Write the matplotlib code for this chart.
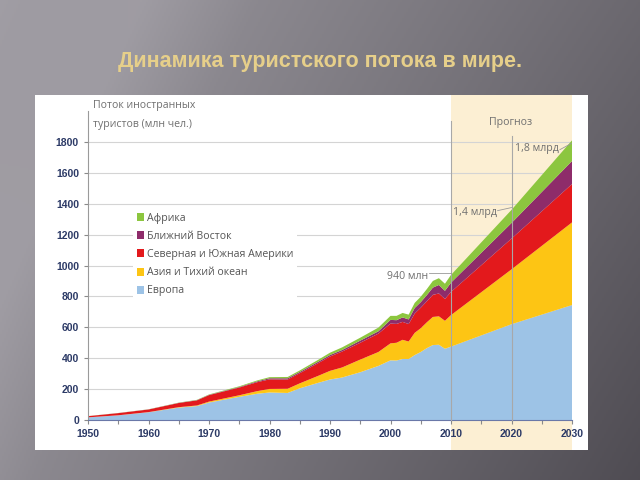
import numpy as np
import matplotlib
matplotlib.use("Agg")
import matplotlib.pyplot as plt
from matplotlib.patches import Rectangle, Patch

plt.rcParams['font.family'] = ['Liberation Sans', 'DejaVu Sans']

# --- data (млн чел.) ---
years = [1950, 1955, 1960, 1965, 1968, 1970, 1975, 1978, 1980, 1983, 1985, 1988,
         1990, 1992, 1995, 1998, 2000, 2001, 2002, 2003, 2004, 2005, 2006, 2007,
         2008, 2009, 2010, 2020, 2030]
europe = [17, 30, 50, 80, 90, 113, 150, 170, 178, 175, 205, 240,
          262, 275, 309, 350, 386, 385, 395, 395, 420, 440, 465, 485,
          487, 461, 475, 620, 744]
asia = [0.2, 0.5, 1, 3, 4, 6, 10, 17, 23, 27, 32, 45,
        56, 65, 82, 90, 110, 115, 124, 113, 144, 154, 167, 182,
        184, 181, 204, 355, 535]
americas = [7.5, 14, 17, 27, 33, 42, 50, 58, 62, 60, 66, 82,
            93, 103, 109, 119, 128, 122, 116, 113, 125, 133, 136, 143,
            148, 141, 150, 199, 248]
middle_east = [0.2, 0.4, 0.6, 1.2, 1.5, 1.9, 3.5, 5.5, 7.1, 8, 8, 9,
               9.6, 10, 13.7, 15, 24, 24, 29, 30, 36, 36, 40, 47,
               55, 53, 60, 101, 149]
africa = [0.5, 0.6, 0.75, 1.4, 2, 2.4, 4.7, 6, 7.2, 8.5, 9.7, 12.5,
          15, 17, 19, 24, 26, 28, 29, 31, 33, 35, 39, 43,
          44, 46, 50, 85, 134]

labels = ['Европа', 'Азия и Тихий океан', 'Северная и Южная Америки',
          'Ближний Восток', 'Африка']
colors = ['#9dc3e6', '#fdc514', '#e3191c', '#8e2c6a', '#8cc63f']

fig = plt.figure(figsize=(6.4, 4.8), dpi=100)

# background gradient
bg = fig.add_axes([0, 0, 1, 1], zorder=-10)
xx, yy = np.meshgrid(np.linspace(0, 1, 320), np.linspace(0, 1, 240))
val = 0.63 - 0.21 * xx - 0.07 * yy - 0.04 * xx * yy
streak = np.clip(1 - np.abs((xx + 0.35 * yy) - 0.22) / 0.18, 0, 1)
val = val + 0.04 * streak
img = np.dstack([val, val - 0.012, val + 0.015])
bg.imshow(np.clip(img, 0, 1), aspect='auto', extent=[0, 1, 0, 1], origin='upper')
bg.axis('off')

# white panel
fig.patches.append(Rectangle((35 / 640, 1 - 450 / 480), 553 / 640, 355 / 480,
                             transform=fig.transFigure, facecolor='white',
                             edgecolor='none', zorder=-5))

fig.text(0.5, 1 - 62 / 480, 'Динамика туристского потока в мире.',
         ha='center', va='center', fontsize=15.5, fontweight='bold', color='#e6cf8a')

ax = fig.add_axes([88 / 640, 0.125, 484 / 640, 309 / 480])
ax.set_facecolor('none')
ax.set_xlim(1950, 2030)
ax.set_ylim(0, 2000)

# forecast band
ax.axvspan(2010, 2030, ymin=-30 / 309, ymax=325 / 309, color='#fcefd3',
           clip_on=False, zorder=0, lw=0)

ax.set_axisbelow(True)
ax.yaxis.grid(True, color='#d4d4d4', lw=0.8)
ax.set_yticks(range(0, 1801, 200))
ax.set_xticks(range(1950, 2031, 10))
ax.set_xticks(range(1955, 2031, 10), minor=True)

ax.stackplot(years, europe, asia, americas, middle_east, africa,
             colors=colors, lw=0, zorder=2)

for x, ytop in [(2010, 1935), (2020, 1840)]:
    ax.plot([x, x], [0, ytop], color='#a8a8a8', lw=0.8, zorder=3, clip_on=False)

for s in ['top', 'right']:
    ax.spines[s].set_visible(False)
ax.spines['left'].set_color('#9a9a9a')
ax.spines['left'].set_bounds(0, 2000)
ax.spines['bottom'].set_color('#6a78a8')
ax.tick_params(axis='both', which='both', colors='#8a8a8a', length=3, width=0.8)
for lab in ax.get_xticklabels() + ax.get_yticklabels():
    lab.set_fontweight('bold')
    lab.set_color('#2c3a66')
    lab.set_fontsize(7.5)
    lab.set_family(['Liberation Sans Narrow', 'Liberation Sans'])

txt = dict(color='#707070', fontsize=7.6, family=['Open Sans', 'DejaVu Sans'])
ax.text(1950.8, 2070, 'Поток иностранных\nтуристов (млн чел.)', va='top', ha='left',
        linespacing=2.0, clip_on=False, **txt)
ax.text(2019.8, 1925, 'Прогноз', ha='center', va='center', **txt)
ax.text(2027.9, 1755, '1,8 млрд', ha='right', va='center', **txt)
ax.plot([2028, 2029.9], [1750, 1790], color='#999999', lw=0.6, zorder=3)
ax.text(2017.6, 1345, '1,4 млрд', ha='right', va='center', **txt)
ax.plot([2017.7, 2020], [1355, 1375], color='#999999', lw=0.6, zorder=3)
ax.text(2006.2, 930, '940 млн', ha='right', va='center', **txt)
ax.plot([2006.4, 2010], [950, 950], color='#999999', lw=0.6, zorder=3)

handles = [Patch(facecolor=c, edgecolor='none') for c in colors[::-1]]
leg = ax.legend(handles, labels[::-1], loc='upper left',
                bbox_to_anchor=(45 / 484, 211 / 309), frameon=True,
                prop={'family': ['Open Sans', 'DejaVu Sans'], 'size': 7.6},
                handlelength=0.7, handleheight=0.8, handletextpad=0.3,
                labelspacing=0.68, borderpad=0.35, borderaxespad=0)
leg.get_frame().set_facecolor('white')
leg.get_frame().set_edgecolor('none')
leg.get_frame().set_alpha(1)
for t in leg.get_texts():
    t.set_color('#555555')

fig.savefig('out.png', dpi=100)
